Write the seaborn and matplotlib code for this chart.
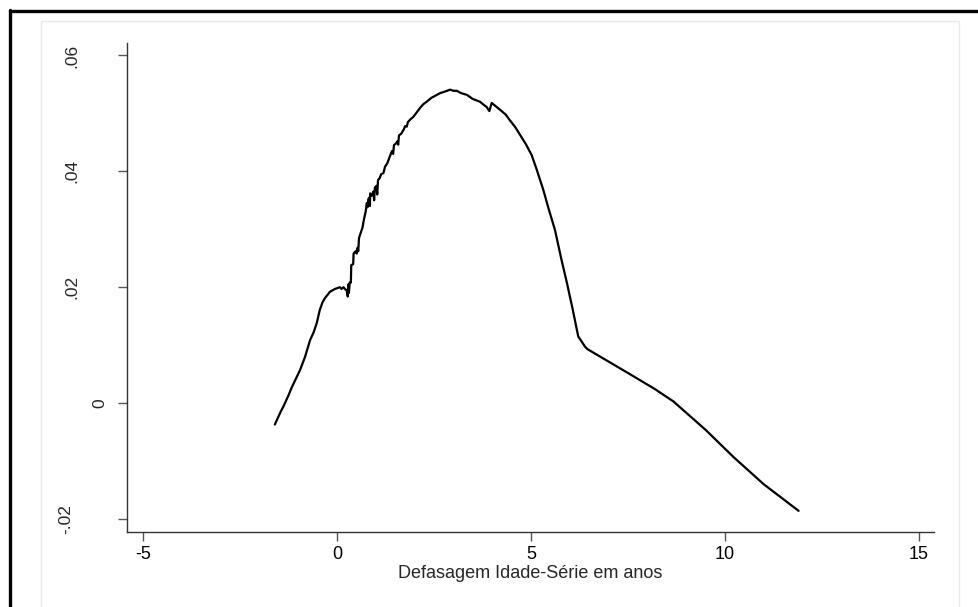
import numpy as np
import pandas as pd
import matplotlib
matplotlib.use("Agg")
import matplotlib.pyplot as plt
from matplotlib.lines import Line2D
from matplotlib.patches import Rectangle
import seaborn as sns

# Curve (age-grade gap in years vs. effect)
defasagem = [-1.60, -1.45, -1.38, -1.25, -1.17, -1.05, -0.95, -0.82, -0.69, -0.60,
             -0.52, -0.44, -0.37, -0.31, -0.18, -0.08, -0.01, 0.08, 0.12, 0.17,
             0.22, 0.25, 0.28, 0.30, 0.31, 0.33, 0.36, 0.37, 0.42, 0.43,
             0.48, 0.51, 0.53, 0.55, 0.57, 0.62, 0.66, 0.70, 0.74, 0.77,
             0.79, 0.81, 0.84, 0.85, 0.86, 0.90, 0.94, 0.96, 0.98, 1.02,
             1.04, 1.06, 1.10, 1.14, 1.20, 1.24, 1.30, 1.36, 1.42, 1.45,
             1.47, 1.52, 1.56, 1.58, 1.60, 1.66, 1.72, 1.76, 1.80, 1.83,
             1.90, 1.97, 2.06, 2.15, 2.23, 2.33, 2.44, 2.55, 2.66, 2.80,
             2.92, 3.00, 3.09, 3.20, 3.35, 3.50, 3.69, 3.80, 3.86, 3.93,
             3.99, 4.10, 4.21, 4.35, 4.46, 4.60, 4.72, 4.87, 5.02, 5.15,
             5.32, 5.45, 5.62, 5.78, 5.93, 6.08, 6.22, 6.30, 6.40, 6.46,
             6.79, 7.50, 8.20, 8.67, 9.50, 10.22, 11.00, 11.90]
efeito = [-0.0037, -0.0015, -0.0006, 0.0013, 0.0026, 0.0043, 0.0057, 0.0080, 0.0109, 0.0122,
          0.0138, 0.0161, 0.0174, 0.0181, 0.0192, 0.0196, 0.0198, 0.0200, 0.0197, 0.0200,
          0.0196, 0.0195, 0.0184, 0.0205, 0.0190, 0.0208, 0.0208, 0.0238, 0.0240, 0.0258,
          0.0262, 0.0258, 0.0268, 0.0262, 0.0285, 0.0295, 0.0303, 0.0318, 0.0330, 0.0345,
          0.0338, 0.0352, 0.0355, 0.0340, 0.0362, 0.0358, 0.0365, 0.0350, 0.0372, 0.0375,
          0.0360, 0.0385, 0.0388, 0.0395, 0.0397, 0.0408, 0.0414, 0.0425, 0.0435, 0.0430,
          0.0445, 0.0448, 0.0452, 0.0446, 0.0462, 0.0465, 0.0472, 0.0478, 0.0477, 0.0485,
          0.0490, 0.0494, 0.0502, 0.0510, 0.0516, 0.0521, 0.0527, 0.0531, 0.0535, 0.0538,
          0.0541, 0.0539, 0.0539, 0.0535, 0.0532, 0.0525, 0.0520, 0.0514, 0.0511, 0.0504,
          0.0518, 0.0512, 0.0506, 0.0498, 0.0488, 0.0476, 0.0463, 0.0447, 0.0428, 0.0403,
          0.0368, 0.0337, 0.0299, 0.0250, 0.0207, 0.0161, 0.0115, 0.0107, 0.0097, 0.0093,
          0.0080, 0.0052, 0.0024, 0.0003, -0.0046, -0.0093, -0.0140, -0.0186]

x_ticks = [-5, 0, 5, 10, 15]
y_ticks = [-0.02, 0, 0.02, 0.04, 0.06]
y_tick_labels = ["-.02", "0", ".02", ".04", ".06"]
x_label = "Defasagem Idade-Série em anos"

df = pd.DataFrame({"x": defasagem, "y": efeito})

sns.set_style("white")
plt.rcParams['font.family'] = ['Liberation Sans', 'DejaVu Sans']

fig = plt.figure(figsize=(9.79, 6.07), dpi=100)
ax = fig.add_axes([127 / 979, 1 - 531.7 / 607, (934 - 127) / 979, (531.7 - 42.7) / 607])

# light inner panel and the partial black frame of the original export
fig.add_artist(Rectangle((41 / 979, -0.05), (959 - 41) / 979, 1.05 - 21 / 607,
                         transform=fig.transFigure, fill=False, edgecolor="#e3ebeb", lw=1, zorder=0))
fig.add_artist(Line2D([10 / 979, 10 / 979], [0, 1 - 10 / 607], transform=fig.transFigure,
                      color="black", lw=2.4))
fig.add_artist(Line2D([10 / 979, 1], [1 - 11 / 607, 1 - 11 / 607], transform=fig.transFigure,
                      color="black", lw=2.4))

sns.lineplot(data=df, x="x", y="y", sort=False, estimator=None, color="black", lw=1.6, ax=ax)

ax.set_xlim(-5.41, 15.39)
ax.set_ylim(-0.0222, 0.0622)
ax.set_xticks(x_ticks)
ax.set_xticklabels([str(t) for t in x_ticks], fontsize=13)
ax.set_yticks(y_ticks)
ax.set_yticklabels([])
ax.set_xlabel(x_label, fontsize=13, labelpad=1)
ax.set_ylabel("")

sns.despine(ax=ax, top=True, right=True)
for s in ["left", "bottom"]:
    ax.spines[s].set_color("#333333")
    ax.spines[s].set_linewidth(1.0)
ax.tick_params(axis="both", direction="out", colors="#555555", length=6.5, width=1.0,
               labelcolor="black", left=True, bottom=True)
ax.tick_params(axis="x", pad=4)

# rotated y labels, placed like the original (the "0" sits closer to the axis)
ytrans = ax.get_yaxis_transform()
label_x = {"-.02": 66, "0": 100, ".02": 72, ".04": 72, ".06": 72}
for val, lab in zip(y_ticks, y_tick_labels):
    ax.text((label_x[lab] - 127) / 807, val, lab, transform=ytrans, rotation=90,
            ha="center", va="center", fontsize=12.5)

fig.savefig("out.png", dpi=100, facecolor="white")
